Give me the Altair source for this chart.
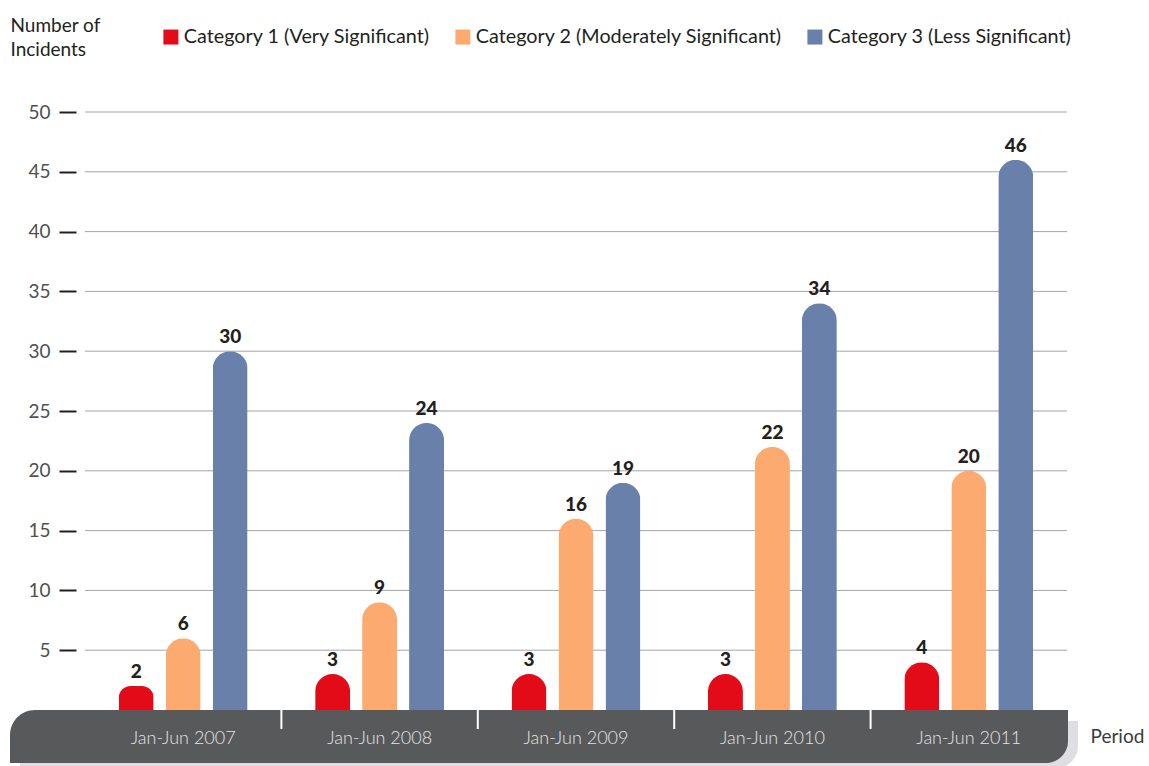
import altair as alt
import pandas as pd

# Reporting periods and incident categories
periods = ["Jan-Jun 2007", "Jan-Jun 2008", "Jan-Jun 2009", "Jan-Jun 2010", "Jan-Jun 2011"]
categories = [
    "Category 1 (Very Significant)",
    "Category 2 (Moderately Significant)",
    "Category 3 (Less Significant)",
]

# Number of incidents per category and period
cat1 = [2, 3, 3, 3, 4]
cat2 = [6, 9, 16, 22, 20]
cat3 = [30, 24, 19, 34, 46]

colors = ["#e30b17", "#fcaa70", "#6880aa"]
y_ticks = [5, 10, 15, 20, 25, 30, 35, 40, 45, 50]

FONT = "Lato"
W, H = 982, 598

rows = []
for cat, vals in zip(categories, [cat1, cat2, cat3]):
    for p, v in zip(periods, vals):
        rows.append({"period": p, "category": cat, "value": v})
df = pd.DataFrame(rows)

grid_df = pd.DataFrame({"value": y_ticks})
sep_df = pd.DataFrame({"period": periods[1:]})
one = pd.DataFrame({"k": [0]})

x_scale = alt.Scale(paddingInner=0, paddingOuter=0)
x_axis = alt.Axis(
    orient="bottom", domain=False, ticks=False, zindex=1,
    labelFont=FONT, labelFontSize=18, labelFontWeight=300, labelColor="#e4e4e4",
    labelBaseline="alphabetic", labelPadding=33, labelAngle=0,
    titleFont=FONT, titleFontSize=19, titleFontWeight="normal", titleColor="#3a3a3c",
    titleAlign="left", titleBaseline="alphabetic", titleX=1005, titleY=32,
)
x_enc = alt.X("period:N", sort=periods, scale=x_scale, axis=x_axis, title="Period")

y_axis = alt.Axis(
    values=y_ticks, domain=False, grid=False, offset=9,
    tickSize=17, tickWidth=2, tickColor="#231f20",
    labelFont=FONT, labelFontSize=19, labelFontWeight="normal", labelColor="#505052",
    labelPadding=9,
    title=["Number of", "Incidents"], titleAngle=0, titleAlign="left",
    titleBaseline="alphabetic", titleX=-66, titleY=-81, titleLineHeight=24,
    titleFont=FONT, titleFontSize=19, titleFontWeight="normal", titleColor="#231f20",
)
y_scale = alt.Scale(domain=[0, 50], nice=False, zero=True)
y_enc = alt.Y("value:Q", scale=y_scale, axis=y_axis)

xoff = alt.XOffset("category:N", sort=categories,
                   scale=alt.Scale(paddingInner=0.255, paddingOuter=0.718))

# Soft shadow under the period band
shadow = alt.Chart(one).mark_rect(color="#dfdee3", cornerRadiusBottomRight=22).encode(
    x=alt.value(-65), x2=alt.value(993), y=alt.value(609), y2=alt.value(656)
)

# Dark period band along the bottom
band = alt.Chart(one).mark_rect(
    color="#58595b", cornerRadiusTopLeft=25, cornerRadiusBottomRight=22
).encode(x=alt.value(-75), x2=alt.value(983), y=alt.value(598), y2=alt.value(651))

# Horizontal gridlines
grid = alt.Chart(grid_df).mark_rule(color="#a3a5ac", strokeWidth=1).encode(
    y=y_enc, x=alt.value(0), x2=alt.value(W)
)

# White separators between periods inside the band
seps = alt.Chart(sep_df).mark_rule(color="white", strokeWidth=2).encode(
    x=alt.X("period:N", sort=periods, scale=x_scale, axis=x_axis, title="Period",
            bandPosition=0),
    y=alt.value(H), y2=alt.value(H + 19),
)

bars = alt.Chart(df).mark_bar(
    cornerRadiusTopLeft=17.5, cornerRadiusTopRight=17.5
).encode(
    x=x_enc,
    xOffset=xoff,
    y=y_enc,
    color=alt.Color(
        "category:N", sort=categories,
        scale=alt.Scale(domain=categories, range=colors),
        legend=alt.Legend(
            orient="none", legendX=76, legendY=-85, direction="horizontal",
            title=None, symbolType="square", symbolSize=225, symbolStrokeWidth=0,
            labelFont=FONT, labelFontSize=19.8, labelColor="#231f20", labelLimit=600,
            labelOffset=3, columnPadding=22,
        ),
    ),
)

labels = alt.Chart(df).mark_text(
    dy=-8, baseline="alphabetic", font=FONT, fontSize=19, fontWeight=900,
    color="#231f20",
).encode(x=x_enc, xOffset=xoff, y=y_enc, text="value:Q")

chart = (
    alt.layer(shadow, band, grid, seps, bars, labels)
    .properties(
        width=W, height=H, autosize="none",
        padding={"left": 85, "top": 112, "right": 82, "bottom": 56},
        background="white",
    )
    .configure_view(stroke=None)
)

chart.save("out.html", embed_options={"renderer": "svg", "actions": False})
